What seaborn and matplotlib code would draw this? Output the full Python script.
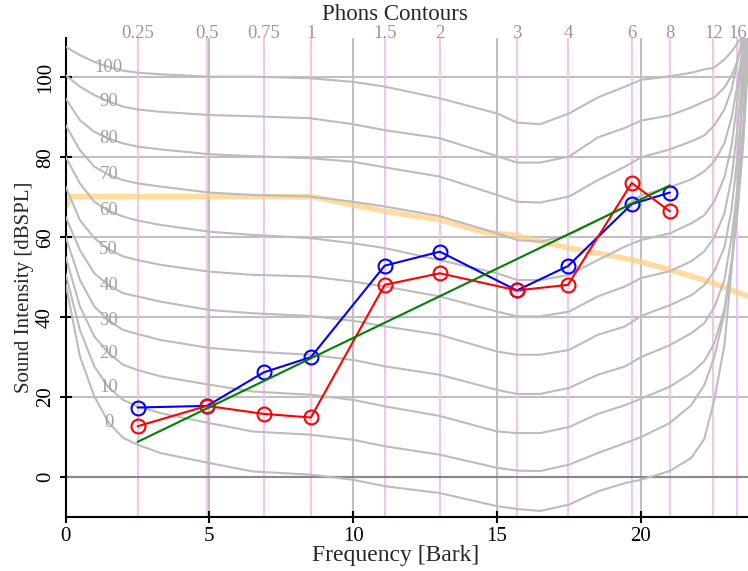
import numpy as np
import pandas as pd
import matplotlib
matplotlib.use("Agg")
import matplotlib.pyplot as plt
import seaborn as sns

# audiogram frequencies [kHz] and the two measured ears [dB SPL]
freq_khz = [0.25, 0.5, 0.75, 1, 1.5, 2, 3, 4, 6, 8]
blue_db = [17.4, 17.8, 26.2, 30.0, 52.9, 56.4, 46.7, 52.8, 68.3, 71.2]
red_db = [12.7, 17.8, 15.8, 14.9, 48.1, 51.0, 46.7, 48.1, 73.6, 66.5]

# straight fit line (green)
fit_khz = [0.25, 8]
fit_db = [8.8, 73.0]

# top axis frequencies [kHz]
top_khz = [0.25, 0.5, 0.75, 1, 1.5, 2, 3, 4, 6, 8, 12, 16]
top_labels = ["0.25", "0.5", "0.75", "1", "1.5", "2", "3", "4", "6", "8", "12", "16"]

# orange level curve
orange_bark = [0.0, 0.2, 8.53, 10.0, 11.1, 13.0, 14.4, 15.7, 17.46, 19.68, 21.0, 22.5, 23.72]
orange_db = [67.7, 70.2, 70.2, 68.1, 66.5, 64.4, 61.5, 60.4, 57.4, 54.4, 51.9, 48.6, 45.2]

# phon contours
contour_bark = [0.0, 0.5, 1.0, 1.5, 2.0, 2.5, 3.3, 5.0, 6.5, 8.5, 10.0, 11.1, 13.0, 15.0, 15.7,
                16.5, 17.5, 18.5, 19.45, 20.0, 21.0, 21.75, 22.2, 22.55, 22.9, 23.15, 23.35,
                23.55, 23.72]
phon_levels = [0, 10, 20, 30, 40, 50, 60, 70, 80, 90, 100]
db_0 = [48.5, 30.2, 20.2, 13.6, 9.8, 8.1, 6.0, 3.5, 1.4, 0.6, -0.7, -2.3, -4.0, -7.3, -8.0,
        -8.5, -6.9, -3.6, -1.5, -0.7, 1.5, 4.8, 9.5, 19.4, 33.0, 52.0, 72.0, 100.0, 125.0]
db_10 = [51.0, 36.8, 27.7, 22.4, 19.3, 17.7, 16.0, 13.5, 11.4, 10.6, 9.3, 7.7, 5.6, 2.3, 1.6,
         1.5, 3.1, 6.0, 8.5, 10.0, 13.5, 18.0, 23.0, 30.0, 41.0, 53.5, 66.0, 83.0, 104.0]
db_20 = [55.2, 42.7, 35.2, 31.0, 28.1, 26.8, 25.2, 23.1, 21.4, 20.6, 19.3, 17.7, 15.3, 11.4, 11.0,
         11.0, 12.5, 15.8, 18.0, 19.6, 22.6, 26.0, 29.0, 33.5, 42.0, 54.0, 67.0, 84.0, 108.0]
db_30 = [60.2, 49.3, 42.7, 39.2, 36.8, 35.8, 34.3, 32.3, 31.4, 30.6, 29.3, 27.7, 25.6, 21.8, 20.8,
         20.8, 22.3, 25.6, 27.7, 30.0, 33.0, 36.0, 38.5, 42.5, 49.3, 60.0, 72.0, 88.0, 112.0]
db_40 = [65.2, 56.8, 51.0, 48.0, 46.0, 45.2, 43.9, 41.8, 41.0, 40.3, 39.1, 37.7, 35.6, 31.4, 30.6,
         30.6, 31.8, 35.6, 37.7, 40.3, 43.0, 45.5, 48.0, 51.5, 57.5, 67.0, 80.0, 96.0, 116.0]
db_50 = [72.7, 64.3, 59.8, 57.0, 55.2, 54.3, 53.1, 51.4, 50.6, 50.2, 48.9, 47.7, 45.2, 41.4, 40.2,
         40.2, 41.4, 45.2, 47.7, 49.8, 51.5, 54.0, 56.5, 60.0, 66.0, 75.0, 87.0, 102.0, 118.0]
db_60 = [80.2, 73.5, 68.9, 66.6, 65.2, 64.2, 63.1, 61.4, 60.6, 59.8, 58.5, 57.3, 54.3, 51.0, 49.3,
         49.3, 50.6, 54.3, 57.7, 59.3, 61.0, 63.5, 65.5, 69.0, 75.0, 83.0, 94.0, 106.0, 118.0]
db_70 = [88.1, 81.8, 77.7, 75.6, 74.3, 73.5, 72.7, 71.2, 70.6, 70.2, 68.9, 67.7, 65.3, 61.0, 59.3,
         58.9, 60.6, 64.3, 67.7, 70.5, 72.5, 74.5, 76.5, 79.0, 83.5, 90.0, 98.0, 108.0, 118.0]
db_80 = [94.8, 89.3, 86.4, 84.7, 83.5, 82.7, 82.0, 80.8, 80.3, 79.8, 78.9, 77.5, 75.2, 70.6, 68.9,
         68.7, 70.2, 74.3, 77.7, 80.0, 82.0, 84.0, 85.5, 88.0, 92.0, 97.0, 104.0, 111.0, 118.0]
db_90 = [100.6, 97.7, 95.6, 94.0, 92.7, 92.0, 91.4, 90.6, 90.3, 89.8, 88.3, 86.8, 84.8, 80.3, 78.7,
         78.7, 80.2, 85.0, 87.4, 89.2, 90.5, 92.5, 94.0, 95.0, 97.5, 100.5, 104.0, 109.0, 115.0]
db_100 = [107.7, 105.6, 103.9, 102.6, 101.7, 101.2, 100.8, 100.2, 100.2, 99.8, 98.9, 97.7, 94.8,
          91.0, 88.7, 88.3, 91.0, 95.0, 97.7, 99.4, 100.3, 101.2, 102.0, 102.5, 104.5, 106.5,
          108.5, 110.5, 113.0]
contour_db = [db_0, db_10, db_20, db_30, db_40, db_50, db_60, db_70, db_80, db_90, db_100]


def khz2bark(f):
    f = np.asarray(f, dtype=float) * 1000.0
    return 26.81 * f / (1960.0 + f) - 0.53


def bark2khz(z):
    z = np.clip(np.asarray(z, dtype=float), -0.5, 26.0)
    return 1.96 * (z + 0.53) / (26.28 - z)


df_contours = pd.DataFrame({
    "bark": np.tile(contour_bark, len(phon_levels)),
    "db": np.concatenate(contour_db),
    "phon": np.repeat(phon_levels, len(contour_bark)),
})
df_ears = pd.DataFrame({"bark": khz2bark(freq_khz), "blue": blue_db, "red": red_db})

sns.set_style("ticks")
plt.rcParams["font.family"] = ["Liberation Serif", "DejaVu Serif"]

fig = plt.figure(figsize=(7.48, 5.71), dpi=100)
ax = fig.add_axes([0.0876, 0.0946, 0.9124, 0.8397])

# pink frequency markers
for f in top_khz:
    ax.axvline(khz2bark(f), color="#f4c2f4", lw=1.5, zorder=1)
ax.axhline(0, color="#888888", lw=1.5, zorder=1.5)

sns.lineplot(x=orange_bark, y=orange_db, color="#ffd080", alpha=0.75, lw=4, ax=ax, zorder=2)
sns.lineplot(data=df_contours, x="bark", y="db", units="phon", estimator=None, sort=False,
             color="#bcbcbc", lw=1.5, ax=ax, zorder=3)

for lev, db in zip(phon_levels, contour_db):
    ax.text(1.5, np.interp(1.5, contour_bark, db), str(lev), color="#a0a0a0", fontsize=13.5,
            ha="center", va="center", zorder=4)

sns.lineplot(data=df_ears, x="bark", y="blue", color="blue", lw=1.5, marker="o", markersize=10,
             markerfacecolor="none", markeredgecolor="blue", markeredgewidth=1.5, ax=ax, zorder=5)
sns.lineplot(data=df_ears, x="bark", y="red", color="red", lw=1.5, marker="o", markersize=10,
             markerfacecolor="none", markeredgecolor="red", markeredgewidth=1.5, ax=ax, zorder=6)
sns.lineplot(x=khz2bark(fit_khz), y=fit_db, color="green", lw=1.5, ax=ax, zorder=7)

ax.set_xlim(0, 23.72)
ax.set_ylim(-10, 110)
ax.set_xticks([0, 5, 10, 15, 20])
ax.set_yticks([0, 20, 40, 60, 80, 100])
ax.grid(True, color="#c0c0c0", lw=1.5)
ax.set_axisbelow(True)
sns.despine(ax=ax)
for s in ["left", "bottom"]:
    ax.spines[s].set_color("black")
    ax.spines[s].set_linewidth(1.5)
ax.tick_params(direction="inout", length=8, width=1.5, colors="black", labelsize=15)
ax.tick_params(axis="y", labelrotation=90)
for t in ax.get_yticklabels():
    t.set_va("center")

ax.set_xlabel("Frequency [Bark]", fontsize=17)
ax.set_ylabel("Sound Intensity [dBSPL]", fontsize=15)
ax.xaxis.set_label_coords(0.484, -0.058)
ax.yaxis.set_label_coords(-0.046, 0.48)

sec = ax.secondary_xaxis("top", functions=(bark2khz, khz2bark))
sec.set_xticks(top_khz, labels=top_labels)
sec.tick_params(length=0, pad=-3, labelcolor="#999999", labelsize=13.5)
sec.spines["top"].set_visible(False)

fig.text(395 / 748, 1 - 20 / 571, "Phons Contours", ha="center", va="baseline", fontsize=16.5)

fig.savefig("out.png", dpi=100)
